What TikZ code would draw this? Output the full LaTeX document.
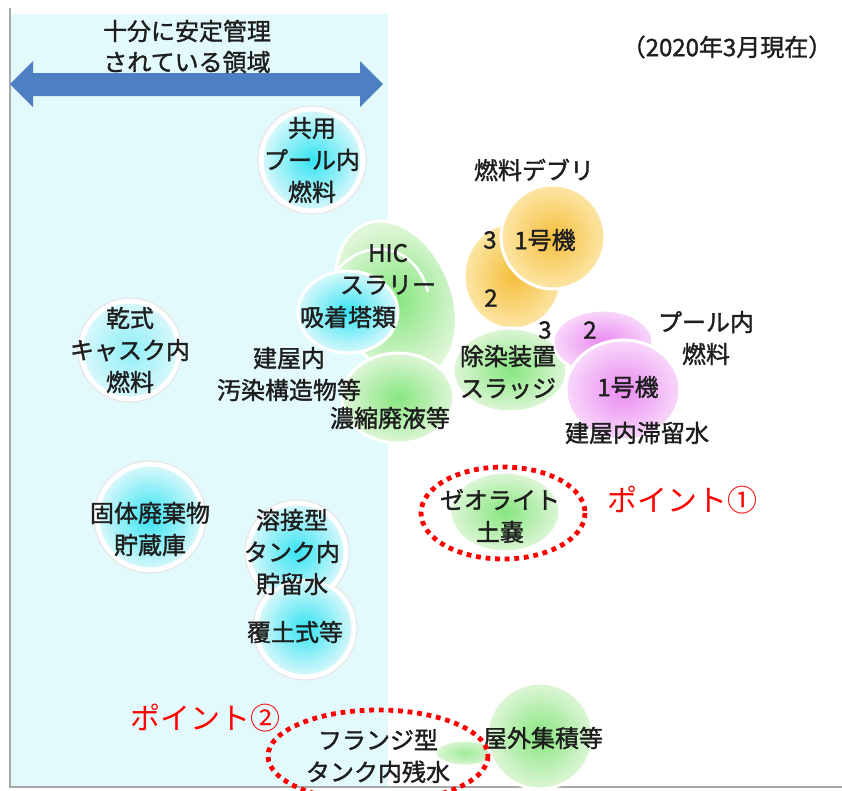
\documentclass[tikz,border=0pt]{standalone}
\usepackage{fontspec}
\setmainfont{Noto Sans CJK JP}
\newfontfamily\jpbold{Noto Sans CJK JP}[FakeBold=1.4]
\definecolor{bgcyan}{HTML}{E3FAFD}
\definecolor{cyanin}{HTML}{35E3F2}
\definecolor{cyanout}{HTML}{D8F8FB}
\definecolor{greenin}{HTML}{86E67E}
\definecolor{greenout}{HTML}{DFF6D8}
\definecolor{orangein}{HTML}{F5BE3C}
\definecolor{orangeout}{HTML}{FCE6A6}
\definecolor{pinkin}{HTML}{E98AF0}
\definecolor{pinkout}{HTML}{F8D8FA}
\definecolor{arrowblue}{HTML}{4D80C2}
\definecolor{txt}{HTML}{1E1E1E}
\definecolor{frame}{HTML}{A8A8A8}
\tikzset{
  lbl/.style={font=\jpbold\fontsize{18}{24}\selectfont, text=txt, align=center, inner sep=0pt},
  datelbl/.style={font=\jpbold\fontsize{18}{20}\selectfont, text=txt, inner sep=0pt},
  redlbl/.style={font=\fontsize{22.5}{26}\selectfont, text=red, inner sep=0pt},
  halo/.style={draw=black!10, line width=0.8pt, fill=white},
  rim/.style={draw=white, line width=2.2pt},
  cyanblob/.style={rim, inner color=cyanin, outer color=cyanout},
  greenblob/.style={rim, inner color=greenin, outer color=greenout},
  orangeblob/.style={rim, inner color=orangein, outer color=orangeout},
  pinkblob/.style={rim, inner color=pinkin, outer color=pinkout},
  reddots/.style={draw=red, line width=3.6pt, dash pattern=on 3.6pt off 3.6pt},
}
\begin{document}
\begin{tikzpicture}[x=0.75pt,y=-0.75pt]
\useasboundingbox (0,0) rectangle (842,790);
\fill[white] (0,0) rectangle (842,790);
% controlled region
\fill[bgcyan] (11,14) rectangle (388,787);
\draw[frame, line width=1.5pt] (10,8) -- (10,788);
\draw[frame, line width=1.5pt] (10,787) -- (842,787);
% double arrow
\fill[arrowblue] (10,84) -- (33,61) -- (33,73) -- (360,73) -- (360,61) -- (383,84)
  -- (360,107) -- (360,96) -- (33,96) -- (33,107) -- cycle;
\node[lbl] (t1) at (187,31) {十分に安定管理};
\node[lbl] (t2) at (187,62) {されている領域};
\node[datelbl] (date) at (727,47) {（2020年3月現在）};

% cyan blobs
\path[halo] (312,160) circle[radius=54];
\shade[cyanblob] (312,160) circle[radius=50];
\path[halo] (130,350) circle[radius=52];
\shade[rim, inner color=cyanin!45!cyanout, outer color=cyanout] (130,350) circle[radius=48];
\path[halo] (150,517) circle[radius=56];
\shade[cyanblob] (150,517) circle[radius=52];
\path[halo] (305,628) circle[radius=52];
\path[halo] (297,552) circle[radius=52];
\shade[cyanblob] (297,552) circle[radius=48];
\shade[cyanblob] (305,628) circle[radius=48];

% HIC group
\shade[greenblob, rotate around={22:(396,300)}] (396,300) ellipse[x radius=56, y radius=82];
\draw[white, line width=2pt] (336,272) .. controls (360,238) and (415,240) .. (428,292);
\shade[cyanblob] (348,312) ellipse[x radius=50, y radius=41];
\shade[greenblob] (398,398) ellipse[x radius=56, y radius=45];

% fuel debris (orange)
\shade[orangeblob] (513,276) ellipse[x radius=49, y radius=53];
\shade[orangeblob] (553,237) circle[radius=52];

% decontamination sludge (green)
\shade[greenblob] (510,370) ellipse[x radius=57, y radius=42];

% pool fuel (pink)
\shade[pinkblob] (603,342) ellipse[x radius=50, y radius=32];
\shade[pinkblob] (623,390) ellipse[x radius=57, y radius=50];

% zeolite
\shade[greenblob] (505,512) ellipse[x radius=55, y radius=40];

% outdoor storage
\shade[rim, inner color=greenin!80, outer color=greenout] (465,753) ellipse[x radius=30, y radius=13];
\shade[greenblob] (540,736) circle[radius=53];

% texts
\node[lbl] (kyoyo) at (312,160) {共用\\プール内\\燃料};
\node[lbl] (kanshiki) at (130,350) {乾式\\キャスク内\\燃料};
\node[lbl] (kotai) at (150,529) {固体廃棄物\\貯蔵庫};
\node[lbl] (yosetsu) at (292,552) {溶接型\\タンク内\\貯留水};
\node[lbl] (fukudo) at (295,632) {覆土式等};
\node[lbl] (hic) at (388,253) {HIC};
\node[lbl] (slurry) at (388,285) {スラリー};
\node[lbl] (kyuchaku) at (348,317) {吸着塔類};
\node[lbl] (tateya) at (289,374) {建屋内\\汚染構造物等};
\node[lbl] (noshuku) at (390,418) {濃縮廃液等};
\node[lbl] (debris) at (534,170) {燃料デブリ};
\node[lbl] (d3) at (490,240) {3};
\node[lbl] (d1) at (545,240) {1号機};
\node[lbl] (d2) at (491,298) {2};
\node[lbl] (josen) at (508,372) {除染装置\\スラッジ};
\node[lbl] (p3) at (545,330) {3};
\node[lbl] (p2) at (590,330) {2};
\node[lbl] (pool) at (706,338) {プール内\\燃料};
\node[lbl] (p1) at (628,387) {1号機};
\node[lbl] (taryu) at (637,433) {建屋内滞留水};
\node[lbl] (zeo) at (500,516) {ゼオライト\\土嚢};
\node[lbl] (okugai) at (543,738) {屋外集積等};
\node[lbl] (flange) at (378,756) {フランジ型\\タンク内残水};

% red highlights
\draw[reddots] (503,513) ellipse[x radius=82, y radius=46];
\draw[reddots] (378,756) ellipse[x radius=110, y radius=46];
\node[redlbl] (pt1) at (682,500) {ポイント①};
\node[redlbl] (pt2) at (205,718) {ポイント②};
\end{tikzpicture}
\end{document}
